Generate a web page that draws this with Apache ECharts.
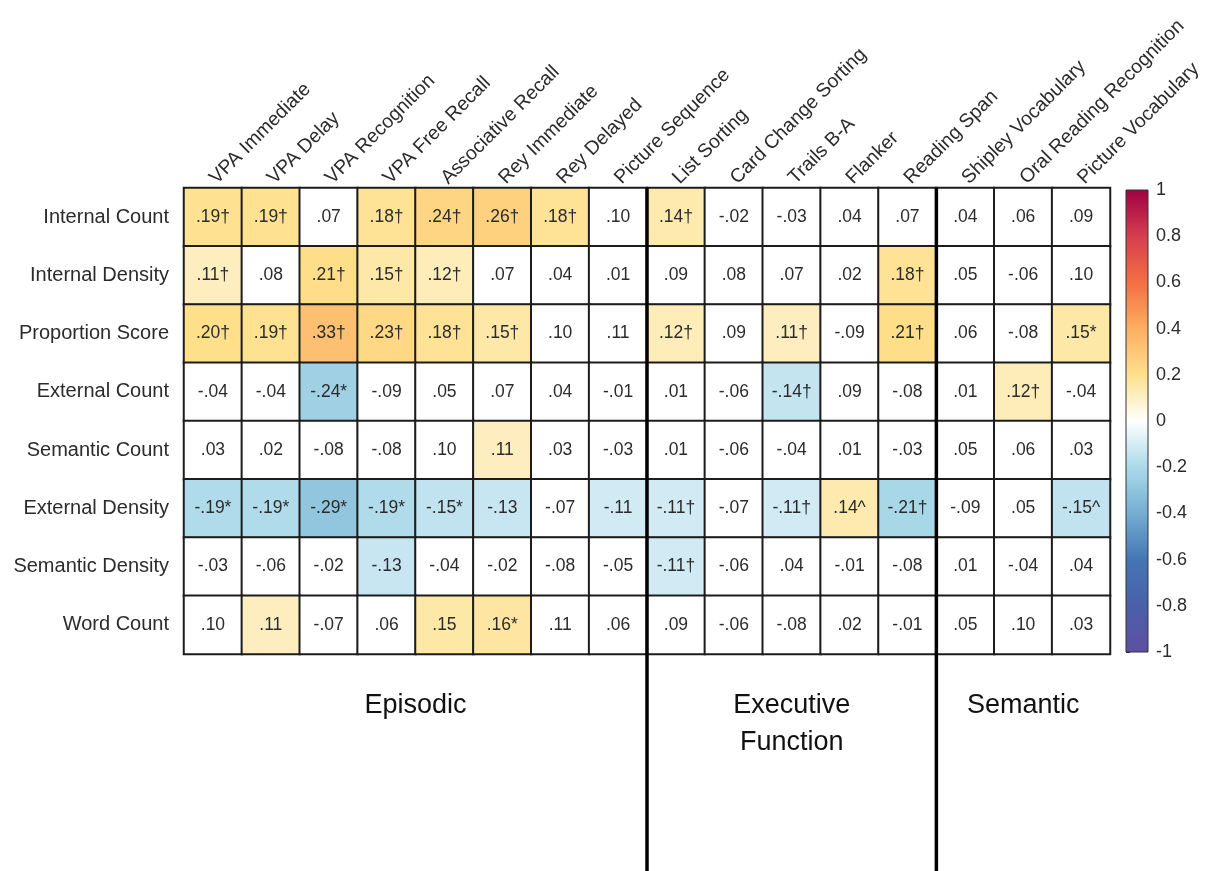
<!DOCTYPE html>
<html>
<head>
<meta charset="utf-8">
<title>Correlations between autobiographical interview scores and cognitive measures</title>
<script src="https://cdn.jsdelivr.net/npm/echarts@6/dist/echarts.min.js"></script>
<style>
  html, body { margin: 0; padding: 0; background: #ffffff; }
  #chart { width: 1211px; height: 871px; }
</style>
</head>
<body>
<div id="chart"></div>
<script>
// Cognitive measures (columns) and interview scores (rows)
const measures = [
  'VPA Immediate', 'VPA Delay', 'VPA Recognition', 'VPA Free Recall',
  'Associative Recall', 'Rey Immediate', 'Rey Delayed', 'Picture Sequence',
  'List Sorting', 'Card Change Sorting', 'Trails B-A', 'Flanker', 'Reading Span',
  'Shipley Vocabulary', 'Oral Reading Recognition', 'Picture Vocabulary'
];
const scores = [
  'Internal Count', 'Internal Density', 'Proportion Score', 'External Count',
  'Semantic Count', 'External Density', 'Semantic Density', 'Word Count'
];

// Correlation coefficients, one row per score
const internalCount    = [0.19, 0.19, 0.07, 0.18, 0.24, 0.26, 0.18, 0.10, 0.14, -0.02, -0.03, 0.04, 0.07, 0.04, 0.06, 0.09];
const internalDensity  = [0.11, 0.08, 0.21, 0.15, 0.12, 0.07, 0.04, 0.01, 0.09, 0.08, 0.07, 0.02, 0.18, 0.05, -0.06, 0.10];
const proportionScore  = [0.20, 0.19, 0.33, 0.23, 0.18, 0.15, 0.10, 0.11, 0.12, 0.09, 0.11, -0.09, 0.21, 0.06, -0.08, 0.15];
const externalCount    = [-0.04, -0.04, -0.24, -0.09, 0.05, 0.07, 0.04, -0.01, 0.01, -0.06, -0.14, 0.09, -0.08, 0.01, 0.12, -0.04];
const semanticCount    = [0.03, 0.02, -0.08, -0.08, 0.10, 0.11, 0.03, -0.03, 0.01, -0.06, -0.04, 0.01, -0.03, 0.05, 0.06, 0.03];
const externalDensity  = [-0.19, -0.19, -0.29, -0.19, -0.15, -0.13, -0.07, -0.11, -0.11, -0.07, -0.11, 0.14, -0.21, -0.09, 0.05, -0.15];
const semanticDensity  = [-0.03, -0.06, -0.02, -0.13, -0.04, -0.02, -0.08, -0.05, -0.11, -0.06, 0.04, -0.01, -0.08, 0.01, -0.04, 0.04];
const wordCount        = [0.10, 0.11, -0.07, 0.06, 0.15, 0.16, 0.11, 0.06, 0.09, -0.06, -0.08, 0.02, -0.01, 0.05, 0.10, 0.03];
const correlations = [internalCount, internalDensity, proportionScore, externalCount,
                      semanticCount, externalDensity, semanticDensity, wordCount];

// Significance marks printed after each coefficient
const marks = [
  ['†', '†', '', '†', '†', '†', '†', '', '†', '', '', '', '', '', '', ''],
  ['†', '', '†', '†', '†', '', '', '', '', '', '', '', '†', '', '', ''],
  ['†', '†', '†', '†', '†', '†', '', '', '†', '', '†', '', '†', '', '', '*'],
  ['', '', '*', '', '', '', '', '', '', '', '†', '', '', '', '†', ''],
  ['', '', '', '', '', '', '', '', '', '', '', '', '', '', '', ''],
  ['*', '*', '*', '*', '*', '', '', '', '†', '', '†', '^', '†', '', '', '^'],
  ['', '', '', '', '', '', '', '', '†', '', '', '', '', '', '', ''],
  ['', '', '', '', '', '*', '', '', '', '', '', '', '', '', '', '']
];

// Cells that are shaded (1) or left blank (0)
const shaded = [
  '1101111010000000',
  '1011100000001000',
  '1111110010101001',
  '0010000000100010',
  '0000010000000000',
  '1111110110111001',
  '0001000010000000',
  '0100110000000000'
];

// Domain groups along the columns
const groupNames  = ['Episodic', 'Executive\nFunction', 'Semantic'];
const groupStarts = [0, 8, 13];
const groupEnds   = [7, 12, 15];

// Colour bar ticks
const barMin = -1, barMax = 1, barStep = 0.2;

// Diverging palette from -1 to 1
const palette = ['#5e4fa2', '#4a60aa', '#4575b4', '#74add1', '#abd9e9', '#ffffff',
                 '#fee08b', '#fdae61', '#f46d43', '#d53e4f', '#9e0142'];

const FONT = "'Liberation Sans', Arial, sans-serif";

const cells = [];
correlations.forEach((row, r) => {
  row.forEach((v, c) => {
    const shadeValue = shaded[r][c] === '1' ? v : 0;
    cells.push([c, r, v, shadeValue]);
  });
});

function fmt(v) {
  const s = Math.abs(v).toFixed(2).replace(/^0/, '');
  return (v < 0 ? '-' : '') + s;
}

const groupData = groupNames.map((n, i) => [groupStarts[i], groupEnds[i], 0, i]);

const chart = echarts.init(document.getElementById('chart'), null, { renderer: 'canvas' });

chart.setOption({
  backgroundColor: '#ffffff',
  animation: false,
  grid: [
    { left: 184, top: 188, right: 101, bottom: 217 },
    { left: 1126, top: 190, width: 22, height: 462 }
  ],
  xAxis: [
    {
      type: 'category',
      data: measures,
      position: 'top',
      gridIndex: 0,
      axisLine: { show: false },
      axisTick: { show: false },
      splitLine: { show: false },
      axisLabel: {
        rotate: -45,
        interval: 0,
        margin: 7,
        fontFamily: FONT,
        fontSize: 19.5,
        color: '#2b2b2b'
      }
    },
    { type: 'value', gridIndex: 1, show: false, min: 0, max: 1 }
  ],
  yAxis: [
    {
      type: 'category',
      data: scores,
      inverse: true,
      gridIndex: 0,
      axisLine: { show: false },
      axisTick: { show: false },
      splitLine: { show: false },
      axisLabel: {
        margin: 15,
        fontFamily: FONT,
        fontSize: 20,
        color: '#2b2b2b'
      }
    },
    {
      type: 'value',
      gridIndex: 1,
      position: 'right',
      min: barMin,
      max: barMax,
      interval: barStep,
      axisLine: { show: false },
      splitLine: { show: false },
      axisTick: { show: true, length: 4, lineStyle: { color: '#333', width: 1 } },
      axisLabel: {
        margin: 8,
        fontFamily: FONT,
        fontSize: 18,
        color: '#2b2b2b',
        formatter: v => String(Math.round(v * 10) / 10)
      }
    }
  ],
  visualMap: {
    type: 'continuous',
    show: false,
    min: barMin,
    max: barMax,
    dimension: 3,
    seriesIndex: 0,
    inRange: { color: palette }
  },
  series: [
    {
      type: 'heatmap',
      xAxisIndex: 0,
      yAxisIndex: 0,
      data: cells,
      itemStyle: { borderColor: '#1c1c1c', borderWidth: 2 },
      emphasis: { disabled: true },
      label: {
        show: true,
        fontFamily: FONT,
        fontSize: 17.5,
        color: '#2b2b2b',
        formatter: p => fmt(p.data[2]) + marks[p.data[1]][p.data[0]]
      }
    },
    {
      // group dividers and group titles beneath the grid
      type: 'custom',
      xAxisIndex: 0,
      yAxisIndex: 0,
      data: groupData,
      encode: { x: 0, y: 2 },
      z: 10,
      silent: true,
      renderItem: (params, api) => {
        const cs = params.coordSys;
        const w = api.size([1, 0])[0];
        const left = api.coord([api.value(0), 0])[0] - w / 2;
        const right = api.coord([api.value(1), 0])[0] + w / 2;
        const bottom = cs.y + cs.height;
        const children = [{
          type: 'text',
          style: {
            text: groupNames[api.value(3)],
            x: (left + right) / 2,
            y: bottom + 33,
            align: 'center',
            verticalAlign: 'top',
            fontFamily: FONT,
            fontSize: 27,
            lineHeight: 37,
            fill: '#111111'
          }
        }];
        if (api.value(0) > 0) {
          children.push({
            type: 'line',
            shape: { x1: left, y1: cs.y, x2: left, y2: api.getHeight() },
            style: { stroke: '#000000', lineWidth: 3.5 }
          });
        }
        return { type: 'group', children };
      }
    },
    {
      // colour bar
      type: 'custom',
      xAxisIndex: 1,
      yAxisIndex: 1,
      data: [[0, 0]],
      silent: true,
      renderItem: (params, api) => {
        const cs = params.coordSys;
        const stops = palette.map((c, i) => ({ offset: 1 - i / (palette.length - 1), color: c }))
                             .reverse();
        return {
          type: 'rect',
          shape: { x: cs.x, y: cs.y, width: cs.width, height: cs.height },
          style: {
            fill: new echarts.graphic.LinearGradient(0, 0, 0, 1, stops),
            stroke: '#333333',
            lineWidth: 1
          }
        };
      }
    }
  ]
});
</script>
</body>
</html>
